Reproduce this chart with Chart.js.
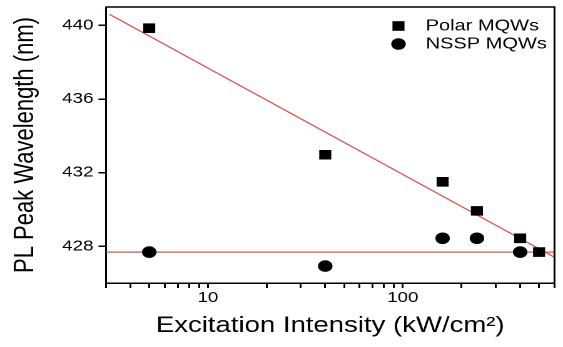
<!DOCTYPE html>
<html>
<head>
<meta charset="utf-8">
<title>PL peak wavelength vs excitation intensity</title>
<script src="https://cdn.jsdelivr.net/npm/chart.js@4.4.0/dist/chart.umd.min.js"></script>
<style>
    html, body { margin: 0; padding: 0; background: #fff; overflow: hidden; }
    /* the source figure is stretched sideways, so draw narrow and widen it */
    #wrap { width: 450px; height: 347px; transform: scaleX(1.2511); transform-origin: 0 0; }
</style>
</head>
<body>
<div id="wrap"><canvas id="plChart"></canvas></div>
<script>
// Data
const polarIntensity = [5, 40, 160, 240, 400, 500];
const polarPeak = [439.85, 432.97, 431.5, 429.92, 428.43, 427.68];
const nsspIntensity = [5, 40, 160, 240, 400];
const nsspPeak = [427.68, 426.92, 428.43, 428.43, 427.68];

// Linear fits (red lines)
const polarFitX = [3.13, 600];
const polarFitY = [440.6, 427.4];
const nsspFitX = [3, 600];
const nsspFitY = [427.68, 427.68];

// Axes
const xTicks = [3, 4, 5, 6, 7, 8, 9, 10, 20, 30, 40, 50, 60, 70, 80, 90, 100, 200, 300, 400, 500, 600];
const xLabels = [10, 100];
const yTicks = [428, 432, 436, 440];
const seriesNames = ['Polar MQWs', 'NSSP MQWs'];

const FONT = '"Liberation Sans", Arial, sans-serif';
const FIT_COLOR = 'rgb(214, 84, 84)';

const toPoints = (xs, ys) => xs.map((x, i) => ({ x: x, y: ys[i] }));

// Top/right frame plus the legend inside the plot
const framePlugin = {
    id: 'frame',
    afterDraw(chart) {
        const { ctx, chartArea: a } = chart;
        ctx.save();
        ctx.strokeStyle = '#000';
        ctx.lineWidth = 1.5;
        ctx.beginPath();
        ctx.moveTo(a.left, a.top);
        ctx.lineTo(a.right, a.top);
        ctx.lineTo(a.right, a.bottom);
        ctx.stroke();

        ctx.font = '16px ' + FONT;
        ctx.textBaseline = 'middle';
        ctx.fillStyle = '#000';
        seriesNames.forEach((name, i) => {
            const ds = chart.data.datasets[i];
            const y = a.top + 19 + i * 18;
            Chart.helpers.drawPoint(ctx, {
                pointStyle: ds.pointStyle,
                radius: ds.pointRadius,
                borderWidth: 0
            }, a.right - 124.7, y);
            ctx.fillText(name, a.right - 103, y);
        });
        ctx.restore();
    }
};

// fixed axis boxes, no extra room for end labels
function fixBox(scale, size) {
    if (scale.isHorizontal()) scale.height = size;
    else scale.width = size;
    scale.paddingTop = scale.paddingBottom = scale.paddingLeft = scale.paddingRight = 0;
}

const ctx = document.getElementById('plChart').getContext('2d');
new Chart(ctx, {
    type: 'scatter',
    data: {
        datasets: [
            {
                label: seriesNames[0],
                data: toPoints(polarIntensity, polarPeak),
                pointStyle: 'rect',
                pointRadius: 6.8,
                backgroundColor: '#000',
                borderColor: '#000',
                borderWidth: 0,
                order: 0
            },
            {
                label: seriesNames[1],
                data: toPoints(nsspIntensity, nsspPeak),
                pointStyle: 'circle',
                pointRadius: 5.8,
                backgroundColor: '#000',
                borderColor: '#000',
                borderWidth: 0,
                order: 0
            },
            {
                label: 'Polar fit',
                data: toPoints(polarFitX, polarFitY),
                showLine: true,
                pointRadius: 0,
                borderColor: FIT_COLOR,
                borderWidth: 1.2,
                order: 1
            },
            {
                label: 'NSSP fit',
                data: toPoints(nsspFitX, nsspFitY),
                showLine: true,
                pointRadius: 0,
                borderColor: FIT_COLOR,
                borderWidth: 1.2,
                order: 1
            }
        ]
    },
    options: {
        responsive: true,
        maintainAspectRatio: false,
        animation: false,
        devicePixelRatio: 2,
        layout: { padding: { top: 7, right: 4, left: 0, bottom: 0 } },
        plugins: {
            legend: { display: false },
            tooltip: { enabled: false }
        },
        scales: {
            x: {
                type: 'logarithmic',
                position: 'bottom',
                min: 3,
                max: 600,
                afterBuildTicks: scale => { scale.ticks = xTicks.map(v => ({ value: v })); },
                afterFit: scale => fixBox(scale, 64),
                border: { display: true, color: '#000', width: 1.5 },
                grid: { display: true, drawOnChartArea: false, drawTicks: true, tickLength: 5, color: '#000', lineWidth: 1.5 },
                ticks: {
                    autoSkip: false,
                    maxRotation: 0,
                    padding: 1,
                    color: '#000',
                    font: { family: FONT, size: 15 },
                    callback: value => xLabels.includes(value) ? String(value) : ''
                },
                title: {
                    display: true,
                    text: 'Excitation Intensity (kW/cm²)',
                    color: '#000',
                    font: { family: FONT, size: 22 },
                    padding: { top: 0, bottom: 8 }
                }
            },
            y: {
                type: 'linear',
                min: 426,
                max: 441,
                afterBuildTicks: scale => { scale.ticks = yTicks.map(v => ({ value: v })); },
                afterFit: scale => fixBox(scale, 84.7),
                border: { display: true, color: '#000', width: 1.5 },
                grid: { display: true, drawOnChartArea: false, drawTicks: true, tickLength: 6, color: '#000', lineWidth: 1.5 },
                ticks: {
                    padding: 4,
                    color: '#000',
                    font: { family: FONT, size: 15 }
                },
                title: {
                    display: true,
                    text: 'PL Peak Wavelength (nm)',
                    color: '#000',
                    font: { family: FONT, size: 22 },
                    padding: { top: 7, bottom: 0 }
                }
            }
        }
    },
    plugins: [framePlugin]
});
</script>
</body>
</html>
